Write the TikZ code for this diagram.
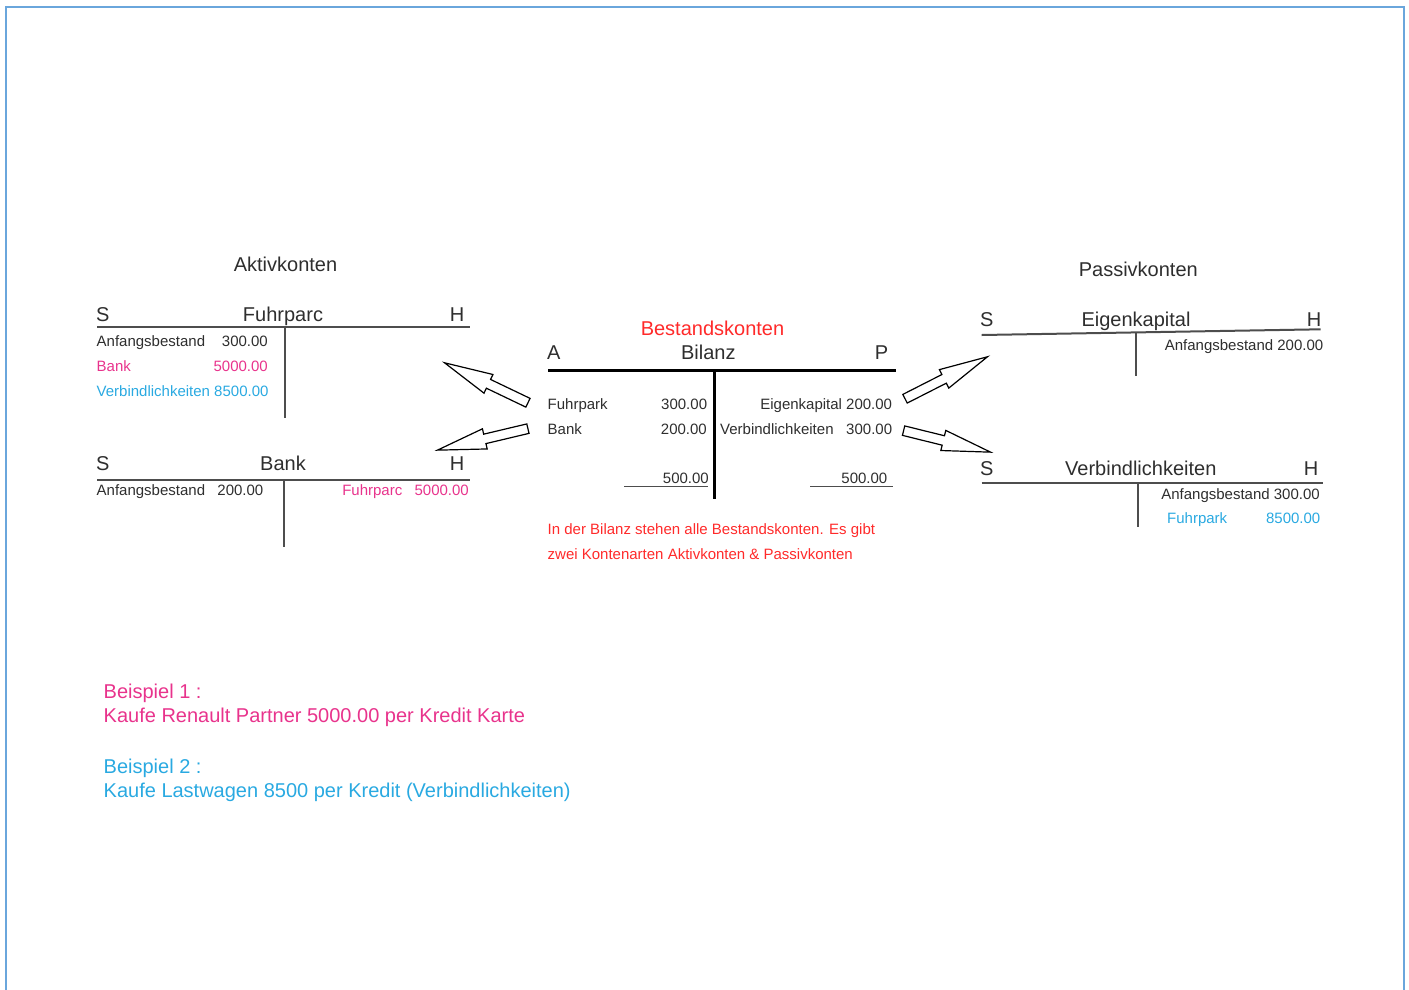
\documentclass[tikz,border=0pt]{standalone}
\usepackage{fontspec}
\setmainfont{Liberation Sans}
\usetikzlibrary{calc,shapes.arrows}
\usepackage{xcolor}
\definecolor{txtgray}{HTML}{2E2E2E}
\definecolor{linegray}{HTML}{4D4D4D}
\definecolor{pinkish}{HTML}{E8338C}
\definecolor{skyblue}{HTML}{29A9E1}
\definecolor{redtxt}{HTML}{FF2A2A}
\definecolor{frameblue}{HTML}{6AA6DC}
\tikzset{%
  big/.style = {font=\fontsize{20}{24}\selectfont, text=txtgray, inner sep=0pt},
  small/.style = {font=\fontsize{15}{18}\selectfont, text=txtgray, inner sep=0pt},
  kontoline/.style = {line width=2pt, draw=linegray},
  bilanzline/.style = {line width=3pt, draw=black},
  sumline/.style = {line width=1.5pt, draw=linegray},
  blockarr/.style = {single arrow, draw, fill=white, line width=1.2pt,
    inner xsep=0pt, inner ysep=4.25pt, single arrow head extend=5.5pt,
    single arrow tip angle=24},
}
\newcommand\blockarrow[2]{%
  \path let \p1=($(#2)-(#1)$), \n1={atan2(\y1,\x1)}, \n2={veclen(\x1,\y1)} in
    node[blockarr, rotate=\n1, minimum height=\n2, anchor=tail] at (#1) {};}

\begin{document}
\begin{tikzpicture}[x=1pt,y=-1pt]
\useasboundingbox (0,0) rectangle (1409,989);
\draw[frameblue, line width=2pt] (6,1000) -- (6,7.3) -- (1404,7.3) -- (1404,1000);

% Aktivkonten
\node[big, anchor=base] (aktiv) at (285.5,271.5) {Aktivkonten};
\node[big, anchor=base west] (fuhrS) at (96,321.7) {S};
\node[big, anchor=base] (fuhrT) at (283,321.7) {Fuhrparc};
\node[big, anchor=base east] (fuhrH) at (464.5,321.7) {H};
\draw[kontoline] (97,327) -- (470,327);
\draw[kontoline] (285,327) -- (285,418);
\node[small, anchor=base west] (fuhrAB) at (96.5,346.5) {Anfangsbestand};
\node[small, anchor=base east] (fuhrABv) at (268,346.5) {300.00};
\node[small, anchor=base west, text=pinkish] (fuhrBk) at (96.5,371) {Bank};
\node[small, anchor=base east, text=pinkish] (fuhrBkv) at (268,371) {5000.00};
\node[small, anchor=base west, text=skyblue] (fuhrVb) at (96.5,396) {Verbindlichkeiten 8500.00};

\node[big, anchor=base west] (bankS) at (96,470.7) {S};
\node[big, anchor=base] (bankT) at (283,470.7) {Bank};
\node[big, anchor=base east] (bankH) at (464.5,470.7) {H};
\draw[kontoline] (97,480) -- (470,480);
\draw[kontoline] (283.5,480) -- (283.5,547);
\node[small, anchor=base west] (bankAB) at (96.5,495) {Anfangsbestand};
\node[small, anchor=base east] (bankABv) at (263.5,495) {200.00};
\node[small, anchor=base east, text=pinkish] (bankFp) at (402.5,495) {Fuhrparc};
\node[small, anchor=base east, text=pinkish] (bankFpv) at (469,495) {5000.00};

% Bilanz
\node[big, anchor=base, text=redtxt] (bestand) at (712.5,335) {Bestandskonten};
\node[big, anchor=base west] (bilA) at (547,359.3) {A};
\node[big, anchor=base] (bilT) at (708.3,359.3) {Bilanz};
\node[big, anchor=base east] (bilP) at (888.5,359.3) {P};
\draw[bilanzline] (548,370) -- (896,370);
\draw[bilanzline] (714.3,370) -- (714.3,498.5);
\node[small, anchor=base west] (bilFp) at (547.5,409.3) {Fuhrpark};
\node[small, anchor=base east] (bilFpv) at (707.3,409.3) {300.00};
\node[small, anchor=base west] (bilBk) at (547.5,434) {Bank};
\node[small, anchor=base east] (bilBkv) at (707,434) {200.00};
\node[small, anchor=base east] (bilEk) at (892.3,409.3) {Eigenkapital 200.00};
\node[small, anchor=base west] (bilVb) at (720,434) {Verbindlichkeiten};
\node[small, anchor=base east] (bilVbv) at (892.3,434) {300.00};
\node[small, anchor=base east] (sumA) at (709,483.3) {500.00};
\draw[sumline] (624.3,486.7) -- (708.3,486.7);
\node[small, anchor=base east] (sumP) at (887.5,483.3) {500.00};
\draw[sumline] (810,486.7) -- (893.3,486.7);
\node[small, anchor=base west, text=redtxt] (info1) at (547.5,534) {In der Bilanz stehen alle Bestandskonten. Es gibt};
\node[small, anchor=base west, text=redtxt] (info2) at (547.5,559) {zwei Kontenarten Aktivkonten \& Passivkonten};

% Passivkonten
\node[big, anchor=base] (passiv) at (1138.3,276.7) {Passivkonten};
\node[big, anchor=base west] (ekS) at (980,326) {S};
\node[big, anchor=base] (ekT) at (1136,326) {Eigenkapital};
\node[big, anchor=base east] (ekH) at (1321.5,326) {H};
\draw[kontoline] (981.7,335) -- (1320.7,329.3);
\draw[kontoline] (1135.7,333) -- (1135.7,376);
\node[small, anchor=base east] (ekAB) at (1323.5,350) {Anfangsbestand 200.00};

\node[big, anchor=base west] (vbS) at (980,475) {S};
\node[big, anchor=base] (vbT) at (1140.8,475) {Verbindlichkeiten};
\node[big, anchor=base east] (vbH) at (1318.5,475) {H};
\draw[kontoline] (981.7,482.7) -- (1323.3,482.7);
\draw[kontoline] (1138.3,482.7) -- (1138.3,527.3);
\node[small, anchor=base east] (vbAB) at (1320,499.3) {Anfangsbestand 300.00};
\node[small, anchor=base west, text=skyblue] (vbFp) at (1167,523) {Fuhrpark};
\node[small, anchor=base east, text=skyblue] (vbFpv) at (1320.5,523) {8500.00};

% Pfeile
\coordinate (t1) at (528.5,403);   \coordinate (p1) at (445,363);
\coordinate (t2) at (528.5,428.5); \coordinate (p2) at (438,450);
\coordinate (t3) at (904.5,399);   \coordinate (p3) at (987,357);
\coordinate (t4) at (903,430.5);   \coordinate (p4) at (990,452);
\blockarrow{t1}{p1}
\blockarrow{t2}{p2}
\blockarrow{t3}{p3}
\blockarrow{t4}{p4}

% Beispiele
\node[big, anchor=base west, text=pinkish] (bsp1) at (103.5,698) {Beispiel 1 :};
\node[big, anchor=base west, text=pinkish] (bsp1t) at (103.5,722) {Kaufe Renault Partner 5000.00 per Kredit Karte};
\node[big, anchor=base west, text=skyblue] (bsp2) at (103.5,773.3) {Beispiel 2 :};
\node[big, anchor=base west, text=skyblue] (bsp2t) at (103.5,797) {Kaufe Lastwagen 8500 per Kredit (Verbindlichkeiten)};
\end{tikzpicture}
\end{document}
